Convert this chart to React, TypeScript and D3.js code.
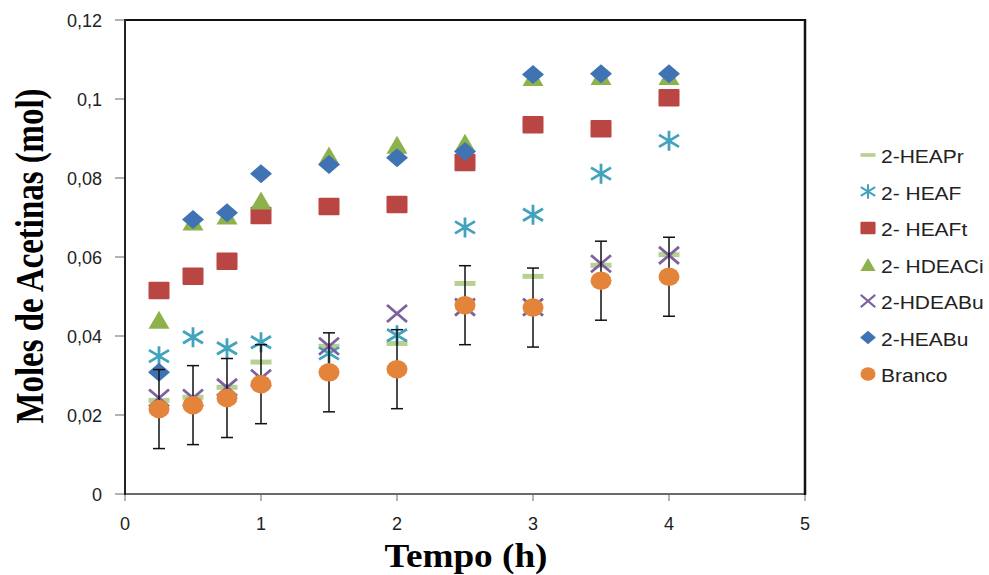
import React from "react";
import * as d3 from "d3";

const times = [0.25, 0.5, 0.75, 1, 1.5, 2, 2.5, 3, 3.5, 4];
const heapr = [0.0237, 0.0245, 0.027, 0.0334, 0.0374, 0.0381, 0.0533, 0.0551, 0.0579, 0.0606];
const heaf = [0.0349, 0.0397, 0.0369, 0.0384, 0.0356, 0.0402, 0.0675, 0.0707, 0.0811, 0.0894];
const heaft = [0.0515, 0.0551, 0.0589, 0.0705, 0.0728, 0.0733, 0.0839, 0.0935, 0.0925, 0.1003];
const hdeaci = [0.0441, 0.069, 0.0705, 0.0743, 0.0857, 0.0884, 0.0889, 0.1056, 0.1058, 0.1058];
const hdeabu = [0.0243, 0.0243, 0.027, 0.0293, 0.0374, 0.0457, 0.0473, 0.0473, 0.0583, 0.0604];
const heabu = [0.0308, 0.0695, 0.0712, 0.0811, 0.0834, 0.0851, 0.0867, 0.1062, 0.1064, 0.1064];
const branco = [0.0215, 0.0225, 0.0243, 0.0278, 0.0308, 0.0316, 0.0478, 0.0472, 0.054, 0.055];
const brancoErr = [0.01, 0.01, 0.01, 0.01, 0.01, 0.01, 0.01, 0.01, 0.01, 0.01];

const yTicks = [0, 0.02, 0.04, 0.06, 0.08, 0.1, 0.12];
const yTickLabels = ["0", "0,02", "0,04", "0,06", "0,08", "0,1", "0,12"];
const xTicks = [0, 1, 2, 3, 4, 5];

type Kind = "dash" | "star" | "square" | "tri" | "x" | "diamond" | "circle";
const seriesList: { name: string; values: number[]; kind: Kind; color: string }[] = [
  { name: "2-HEAPr", values: heapr, kind: "dash", color: "#b8d193" },
  { name: "2- HEAF", values: heaf, kind: "star", color: "#42a3bd" },
  { name: "2- HEAFt", values: heaft, kind: "square", color: "#b94643" },
  { name: "2- HDEACi", values: hdeaci, kind: "tri", color: "#8db24c" },
  { name: "2-HDEABu", values: hdeabu, kind: "x", color: "#7b61a0" },
  { name: "2-HEABu", values: heabu, kind: "diamond", color: "#4073b3" },
  { name: "Branco", values: branco, kind: "circle", color: "#e3843a" },
];

function Marker({ kind, color, cx, cy, s }: { kind: Kind; color: string; cx: number; cy: number; s: number }) {
  const w = 21 * s;
  const h = 17.5 * s;
  const sw = Math.max(2.8 * s, 1.5);
  switch (kind) {
    case "dash":
      return <rect x={cx - w / 2} y={cy - 2.5 * s} width={w} height={5 * s} fill={color} />;
    case "square":
      return <rect x={cx - w / 2} y={cy - h / 2} width={w} height={h} fill={color} rx={1} />;
    case "circle":
      return <ellipse cx={cx} cy={cy} rx={w / 2} ry={(h + 1) / 2} fill={color} />;
    case "diamond": {
      const dw = (22 * s) / 2, dh = (19 * s) / 2;
      return <path d={`M${cx},${cy - dh}L${cx + dw},${cy}L${cx},${cy + dh}L${cx - dw},${cy}Z`} fill={color} />;
    }
    case "tri": {
      const tw = (21 * s) / 2, th = (18 * s) / 2;
      return <path d={`M${cx},${cy - th}L${cx + tw},${cy + th}L${cx - tw},${cy + th}Z`} fill={color} />;
    }
    case "x": {
      const a = 10 * s, b = 8.5 * s;
      return <path d={`M${cx - a},${cy - b}L${cx + a},${cy + b}M${cx - a},${cy + b}L${cx + a},${cy - b}`} stroke={color} strokeWidth={sw} fill="none" />;
    }
    case "star": {
      const a = 10 * s, b = 10 * s;
      return (
        <path
          d={`M${cx},${cy - b}L${cx},${cy + b}M${cx - a},${cy - b * 0.6}L${cx + a},${cy + b * 0.6}M${cx - a},${cy + b * 0.6}L${cx + a},${cy - b * 0.6}`}
          stroke={color}
          strokeWidth={sw}
          fill="none"
        />
      );
    }
  }
  return null;
}

export default function App() {
  const W = 989, H = 575;
  const x = d3.scaleLinear().domain([0, 5]).range([125, 805]);
  const y = d3.scaleLinear().domain([0, 0.12]).range([494, 20]);
  const sans = "'Liberation Sans', Arial, sans-serif";
  const serif = "'Liberation Serif', 'Times New Roman', serif";

  return (
    <svg width={W} height={H} style={{ position: "absolute", left: 0, top: 0, background: "#fff" }}>
      <rect x={0} y={0} width={W} height={H} fill="#fff" />
      {yTicks.map((t, i) => (
        <g key={"yt" + i}>
          <line x1={115} x2={125} y1={y(t)} y2={y(t)} stroke="#9a9a9a" strokeWidth={1.5} />
          <text x={102} y={y(t) + 6.5} textAnchor="end" fontFamily={sans} fontSize={18} fill="#222">
            {yTickLabels[i]}
          </text>
        </g>
      ))}
      {xTicks.map((t, i) => (
        <g key={"xt" + i}>
          <line x1={x(t)} x2={x(t)} y1={494} y2={501} stroke="#9a9a9a" strokeWidth={1.5} />
          <text x={x(t)} y={530} textAnchor="middle" fontFamily={sans} fontSize={18} fill="#222">
            {t}
          </text>
        </g>
      ))}
      <line x1={x(0)} x2={x(5)} y1={494} y2={494} stroke="#6a6a6a" strokeWidth={2} />
      <line x1={x(0)} x2={x(5)} y1={20} y2={20} stroke="#111" strokeWidth={2} />
      <line x1={x(0)} x2={x(0)} y1={19} y2={495} stroke="#222" strokeWidth={2} />
      <line x1={x(5)} x2={x(5)} y1={19} y2={495} stroke="#111" strokeWidth={2.5} />

      {seriesList.slice(0, 6).map((s) => (
        <g key={s.name}>
          {s.values.map((v, i) => (
            <Marker key={i} kind={s.kind} color={s.color} cx={x(times[i])} cy={y(v)} s={1} />
          ))}
        </g>
      ))}
      {branco.map((v, i) => {
        const cx = x(times[i]);
        const y1 = y(v + brancoErr[i]);
        const y2 = y(v - brancoErr[i]);
        return (
          <g key={"eb" + i} stroke="#111" strokeWidth={1.5}>
            <line x1={cx} x2={cx} y1={y1} y2={y2} />
            <line x1={cx - 6} x2={cx + 6} y1={y1} y2={y1} />
            <line x1={cx - 6} x2={cx + 6} y1={y2} y2={y2} />
          </g>
        );
      })}
      {branco.map((v, i) => (
        <Marker key={"b" + i} kind="circle" color={seriesList[6].color} cx={x(times[i])} cy={y(v)} s={1} />
      ))}

      {seriesList.map((s, i) => {
        const cy = 155 + i * 36.5;
        return (
          <g key={"lg" + i}>
            <Marker kind={s.kind} color={s.color} cx={868} cy={cy} s={0.72} />
            <text transform={`translate(881,${cy + 8}) scale(1,0.85)`} fontFamily={sans} fontSize={21} fill="#222">
              {s.name}
            </text>
          </g>
        );
      })}

      <text x={466} y={567} textAnchor="middle" fontFamily={serif} fontWeight="bold" fontSize={33} textLength={163} lengthAdjust="spacingAndGlyphs" fill="#000">
        Tempo (h)
      </text>
      <text transform="translate(43,256) rotate(-90)" textAnchor="middle" fontFamily={serif} fontWeight="bold" fontSize={39} textLength={335} lengthAdjust="spacingAndGlyphs" fill="#000">
        Moles de Acetinas (mol)
      </text>
    </svg>
  );
}
